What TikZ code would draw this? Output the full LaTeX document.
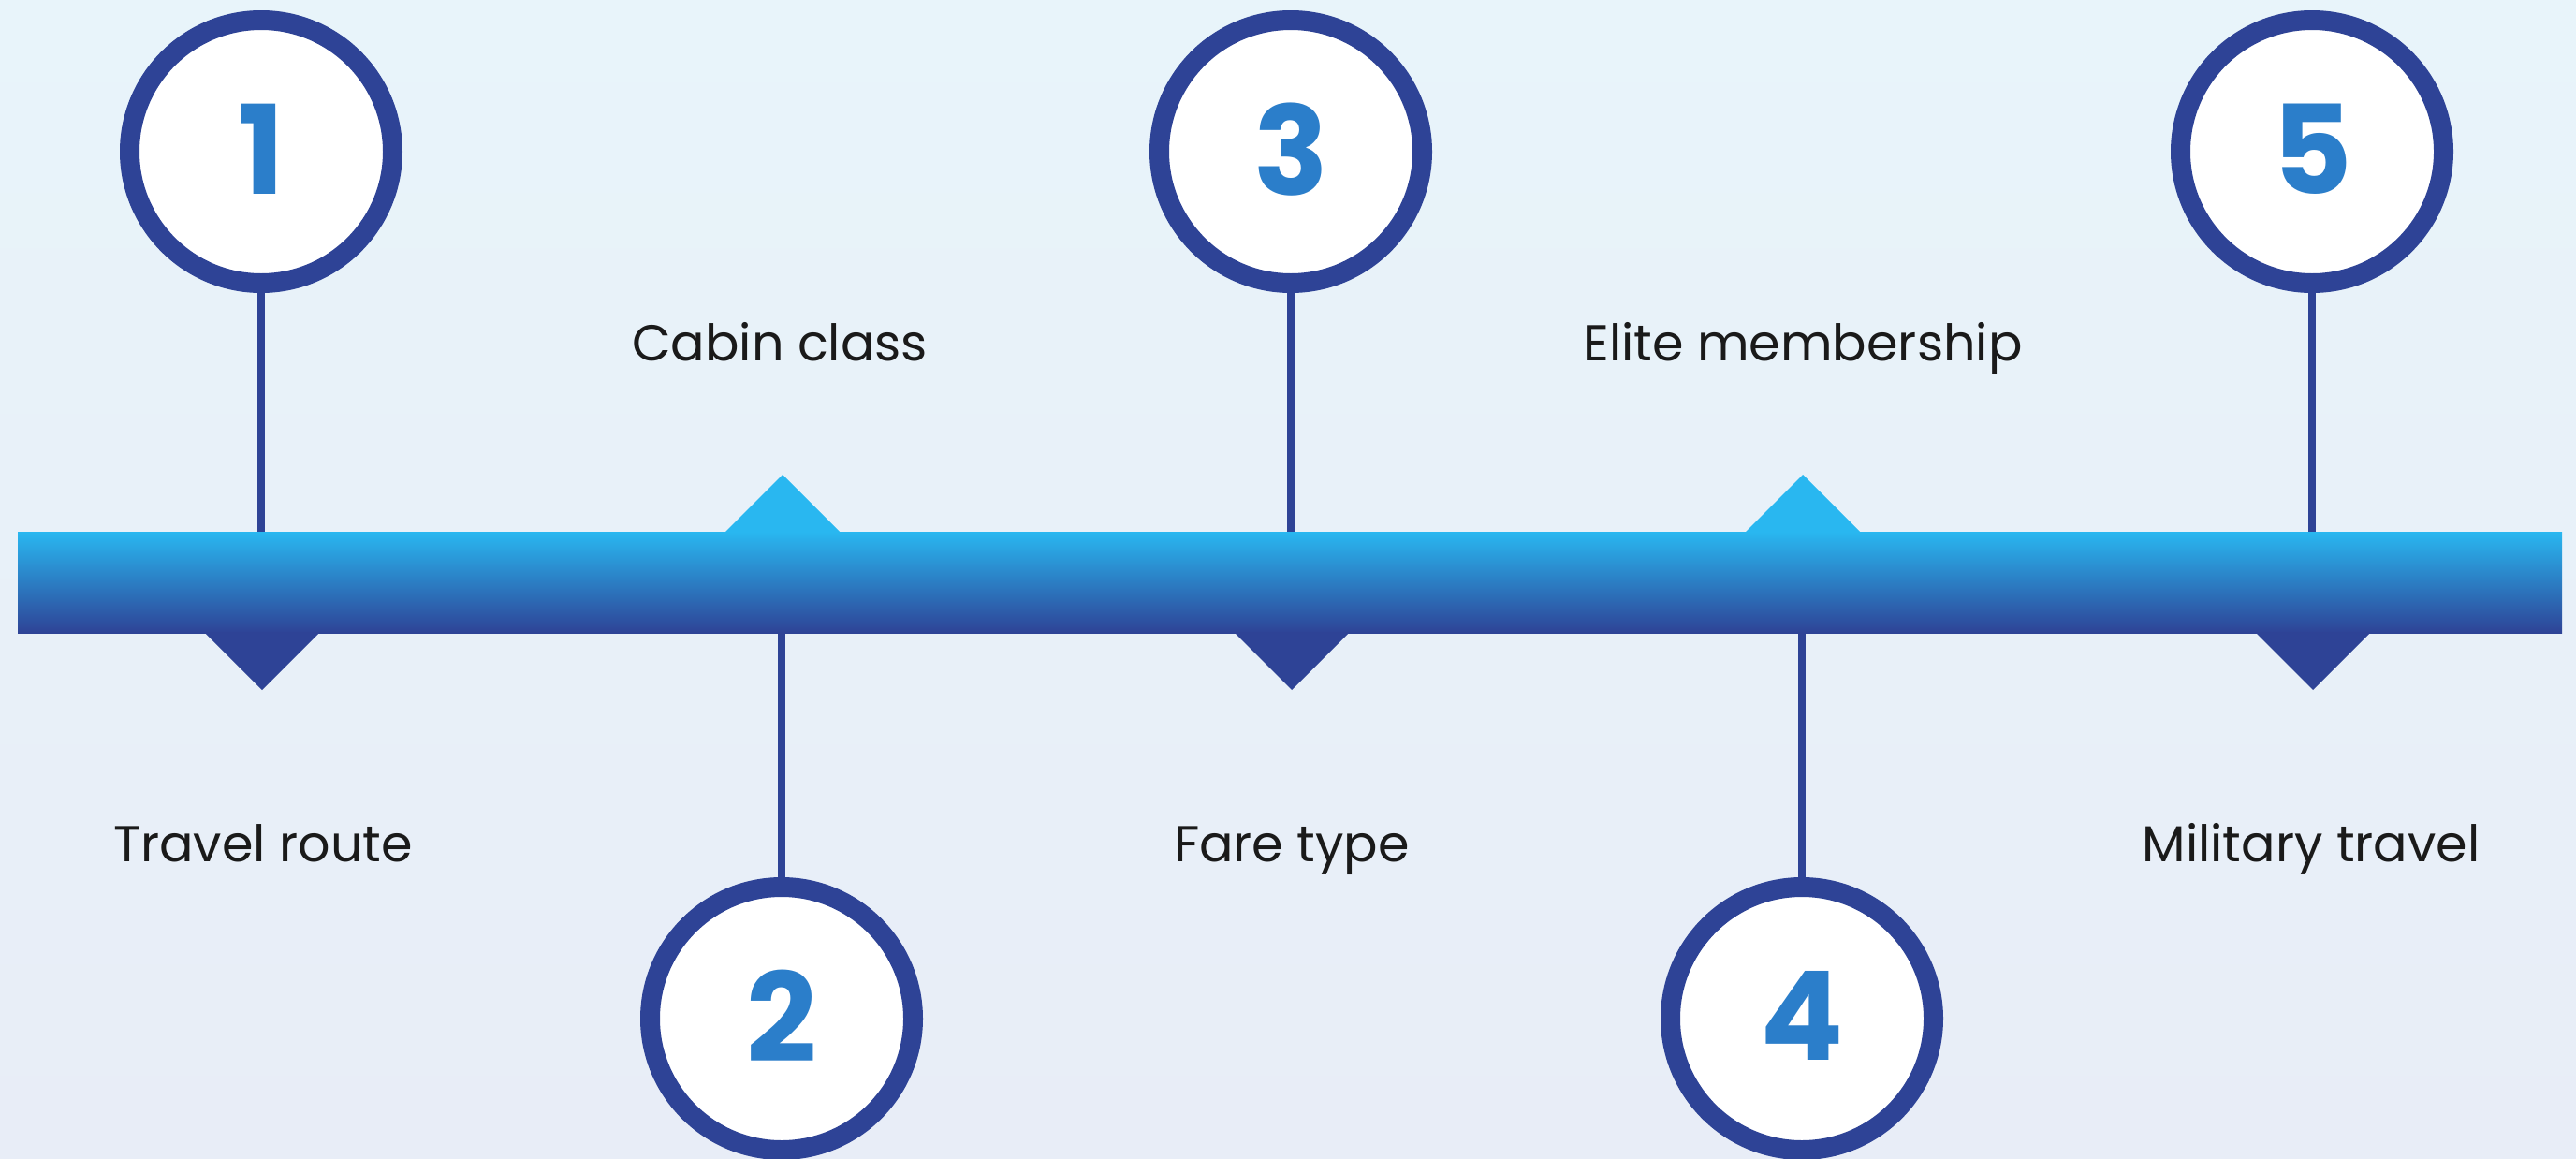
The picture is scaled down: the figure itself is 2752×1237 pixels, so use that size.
\documentclass[tikz,border=0pt]{standalone}
\usepackage{fontspec}
\setmainfont{Poppins}
\definecolor{bgtop}{RGB}{232,244,250}
\definecolor{bgbot}{RGB}{232,237,247}
\definecolor{bartop}{RGB}{41,183,240}
\definecolor{barbot}{RGB}{46,67,150}
\definecolor{ringblue}{RGB}{46,67,150}
\definecolor{numblue}{RGB}{43,126,202}
\definecolor{textdark}{RGB}{26,26,26}
\newcommand{\numtxt}[1]{\raisebox{3pt}[\height][0pt]{#1}}
\begin{document}
\begin{tikzpicture}[x=1pt,y=-1pt,
  ring/.style={circle, draw=ringblue, line width=21pt, fill=white, minimum size=281pt, inner sep=0pt,
    font=\fontsize{132}{132}\selectfont\bfseries, text=numblue},
  lbl/.style={anchor=base, inner sep=0pt, font=\fontsize{54}{60}\selectfont, text=textdark},
  stem/.style={draw=ringblue, line width=8pt},
  bar/.style={rectangle, draw=none, inner sep=0pt, minimum width=2718pt, minimum height=108pt,
    top color=bartop, bottom color=barbot},
  uptri/.style={fill=bartop},
  downtri/.style={fill=barbot}]
\shade[top color=bgtop, bottom color=bgbot] (0,0) rectangle (2752,1237);
\useasboundingbox (0,0) rectangle (2752,1237);
% bar
\node[bar] (bar) at (1378,622) {};
% triangles
\fill[downtri] (218,675) -- (280,737) -- (342,675) -- cycle;
\fill[downtri] (1318,675) -- (1380,737) -- (1442,675) -- cycle;
\fill[downtri] (2409,675) -- (2471,737) -- (2533,675) -- cycle;
\fill[uptri] (774,569) -- (836,507) -- (898,569) -- cycle;
\fill[uptri] (1864,569) -- (1926,507) -- (1988,569) -- cycle;
% circles
\node[ring] (c1) at (279,162) {\numtxt{1}};
\node[ring] (c2) at (835,1088) {\numtxt{2}};
\node[ring] (c3) at (1379,162) {\numtxt{3}};
\node[ring] (c4) at (1925,1088) {\numtxt{4}};
\node[ring] (c5) at (2470,162) {\numtxt{5}};
% stems
\draw[stem] (c1.south) -- (c1.south |- bar.north);
\draw[stem] (c2.north) -- (c2.north |- bar.south);
\draw[stem] (c3.south) -- (c3.south |- bar.north);
\draw[stem] (c4.north) -- (c4.north |- bar.south);
\draw[stem] (c5.south) -- (c5.south |- bar.north);
% labels
\node[lbl] (l1) at (281,920) {Travel route};
\node[lbl] (l2) at (833,385) {Cabin class};
\node[lbl] (l3) at (1380,920) {Fare type};
\node[lbl] (l4) at (1926,385) {Elite membership};
\node[lbl] (l5) at (2469,920) {Military travel};
\end{tikzpicture}
\end{document}
